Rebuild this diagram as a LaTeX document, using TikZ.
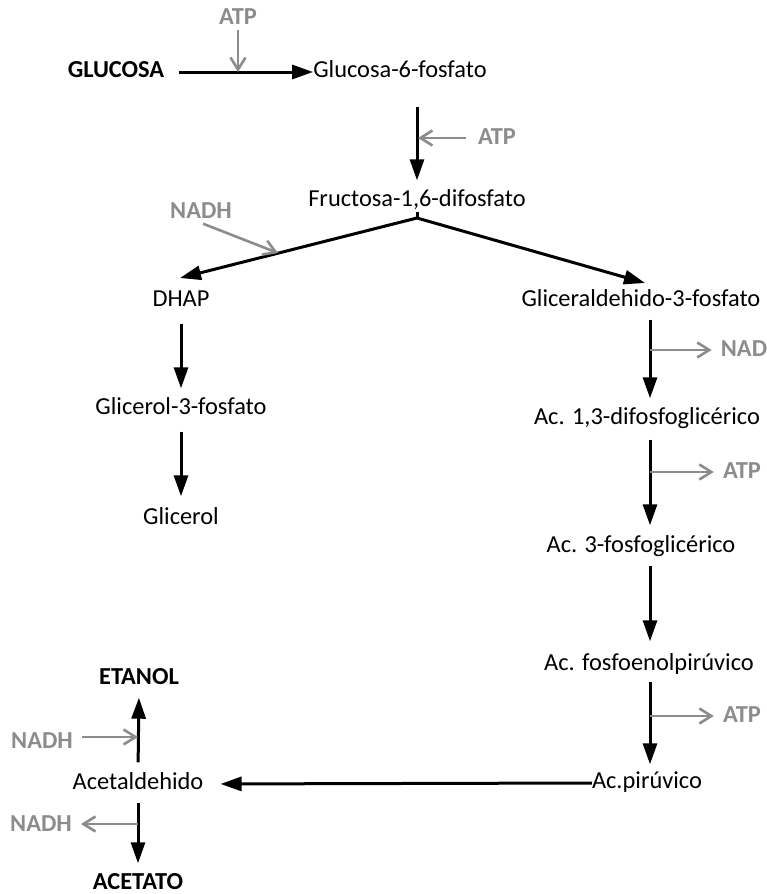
\documentclass[tikz,border=0pt]{standalone}
\usepackage{fontspec}
\setmainfont{Carlito}
\usetikzlibrary{arrows.meta}
\definecolor{sidegray}{RGB}{140,140,140}
\begin{document}
\begin{tikzpicture}[x=1pt,y=-1pt,
  lbl/.style={inner sep=0pt, text height=16pt, text depth=5pt, font=\fontsize{24.4}{29}\selectfont},
  blbl/.style={lbl, font=\fontsize{24.4}{29}\selectfont\bfseries},
  glbl/.style={blbl, text=sidegray},
  main/.style={line width=3pt, -{Triangle[length=21pt,width=14pt]}},
  side/.style={line width=2.6pt, sidegray, -{Straight Barb[length=12pt,width=15pt]}}]
\useasboundingbox (0,0) rectangle (766,894);

% nodes
\node[glbl] (atp1) at (238,19) {ATP};
\node[blbl] (glu) at (116,72) {GLUCOSA};
\node[lbl] (g6p) at (400,72) {Glucosa-6-fosfato};
\node[glbl] (atp2) at (497,139) {ATP};
\node[lbl] (f16) at (417,201) {Fructosa-1,6-difosfato};
\node[glbl] (nadh1) at (201,213) {NADH};
\node[lbl] (dhap) at (181,301) {DHAP};
\node[lbl] (gap) at (641,301) {Gliceraldehido-3-fosfato};
\node[glbl] (nad) at (744,351) {NAD};
\node[lbl] (g3p) at (181,409) {Glicerol-3-fosfato};
\node[lbl] (a13) at (647,419) {Ac. 1,3-difosfoglicérico};
\node[glbl] (atp3) at (742,473) {ATP};
\node[lbl] (glicerol) at (181,519) {Glicerol};
\node[lbl] (a3) at (641,547) {Ac. 3-fosfoglicérico};
\node[lbl] (pep) at (649,665) {Ac. fosfoenolpirúvico};
\node[blbl] (etanol) at (139,679) {ETANOL};
\node[glbl] (atp4) at (742,717) {ATP};
\node[glbl] (nadh2) at (42,743) {NADH};
\node[lbl] (pir) at (647,783) {Ac.pirúvico};
\node[lbl] (acet) at (138,784) {Acetaldehido};
\node[glbl] (nadh3) at (41,826) {NADH};
\node[blbl] (acetato) at (138,884) {ACETATO};

% auxiliary coordinates
\coordinate (m1) at (238,72);
\coordinate (m2) at (418,138);
\coordinate (apex) at (417,218);
\coordinate (tipL) at (180,278);
\coordinate (tipR) at (645,283);
\coordinate (n1) at (278,253);
\coordinate (colR) at (650,0);
\coordinate (m3) at (650,350);
\coordinate (m4) at (650,472);
\coordinate (m5) at (650,716);
\coordinate (m6) at (138,737);
\coordinate (m7) at (138,824);

% main pathway
\draw[main, shorten <=15pt] (glu.east) -- (g6p.west);
\draw[main, shorten <=24pt, shorten >=10pt] (g6p.south -| f16) -- (f16.north);
\draw[line width=3pt] (apex) -- (f16.south);
\draw[main] (apex) -- (tipL);
\draw[main] (apex) -- (tipR);
\draw[main, shorten <=12pt, shorten >=10pt] (dhap.south) -- (g3p.north);
\draw[main, shorten <=12pt, shorten >=12pt] (g3p.south) -- (glicerol.north);
\draw[main, shorten <=8pt, shorten >=10pt] (gap.south -| colR) -- (a13.north -| colR);
\draw[main, shorten <=10pt, shorten >=11pt] (a13.south -| colR) -- (a3.north -| colR);
\draw[main, shorten <=8pt, shorten >=13pt] (a3.south -| colR) -- (pep.north -| colR);
\draw[main, shorten <=6pt, shorten >=8pt] (pep.south -| colR) -- (pir.north -| colR);
\draw[main, shorten >=17pt] (pir.west) -- (acet.east);
\draw[main, shorten <=11pt, shorten >=8pt] (acet.north) -- (etanol.south);
\draw[main, shorten <=8pt, shorten >=10pt] (acet.south) -- (acetato.north);

% cofactors
\draw[side] (atp1.south) -- (m1);
\draw[side, shorten <=12pt] (atp2.west |- m2) -- (m2);
\draw[side] ([xshift=2pt]nadh1.south) -- (n1);
\draw[side, shorten >=9pt] (m3) -- (nad.west |- m3);
\draw[side, shorten >=9pt] (m4) -- (atp3.west |- m4);
\draw[side, shorten >=9pt] (m5) -- (atp4.west |- m5);
\draw[side, shorten <=9pt] (nadh2.east |- m6) -- (m6);
\draw[side, shorten >=9pt] (m7) -- (nadh3.east |- m7);
\end{tikzpicture}
\end{document}
